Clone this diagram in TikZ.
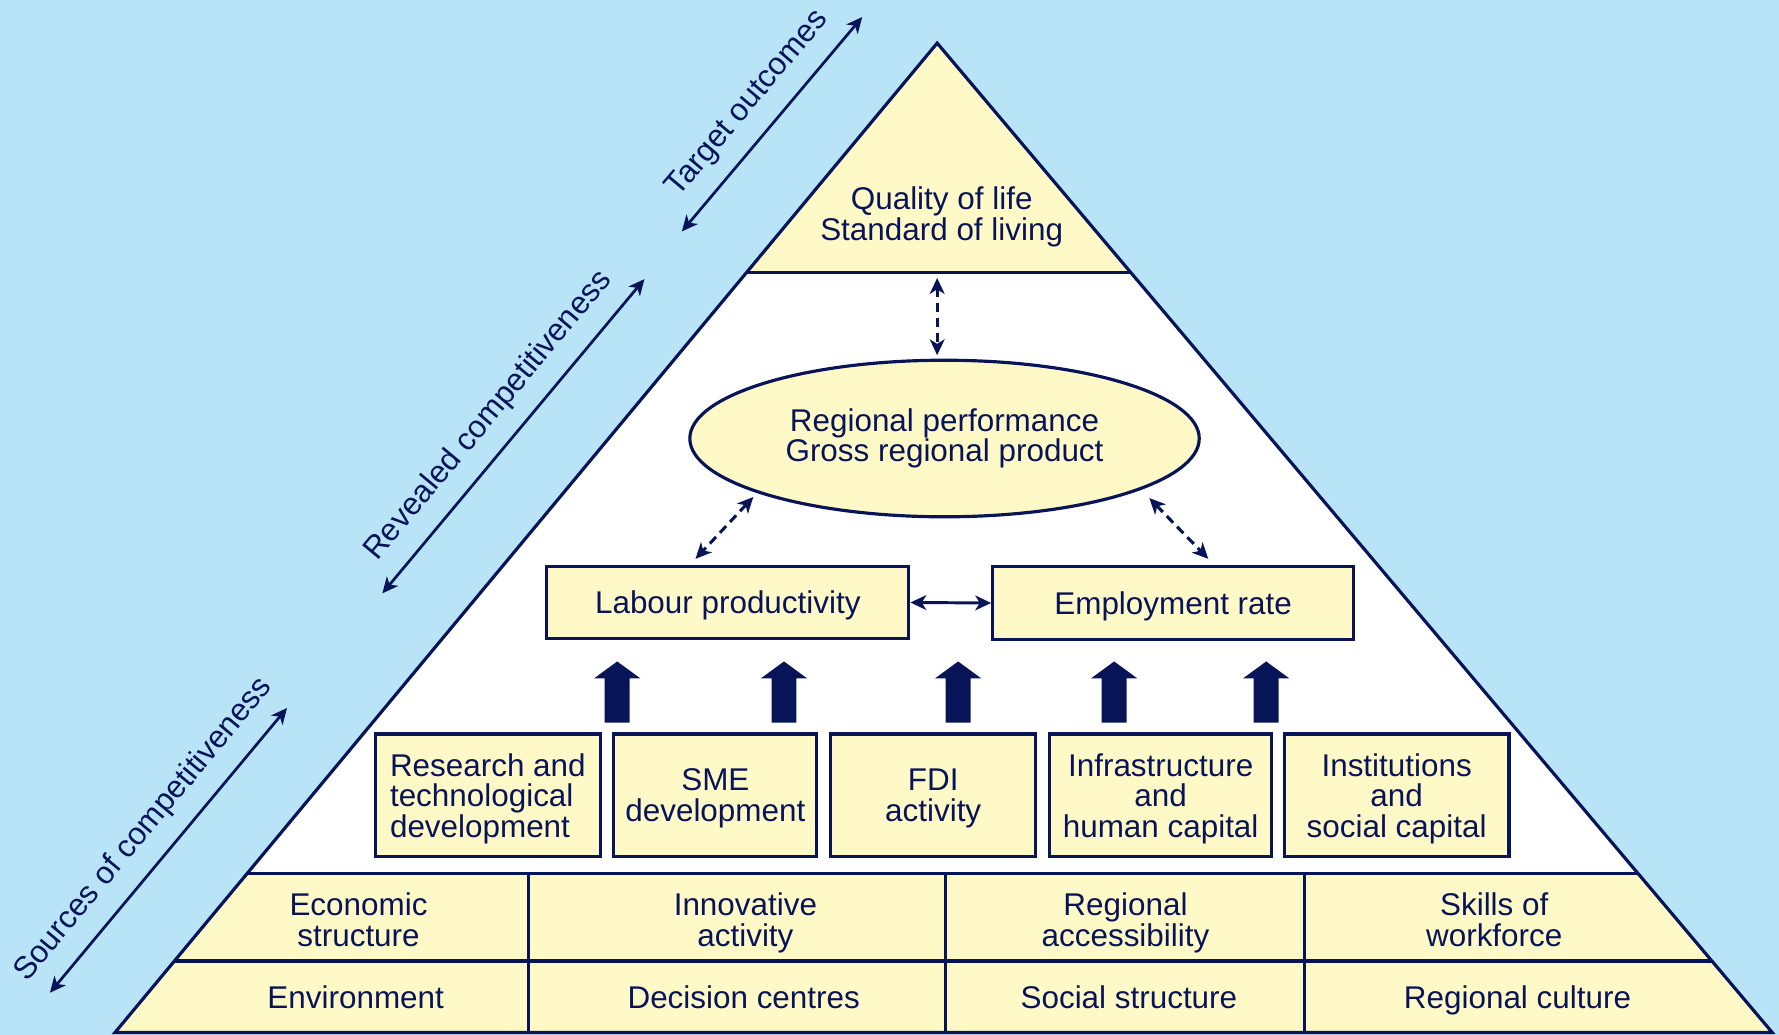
\documentclass[tikz,border=0pt]{standalone}
\usepackage{fontspec}
\setmainfont{Liberation Sans}
\usetikzlibrary{arrows.meta,shapes.geometric,calc}
\definecolor{bgblue}{RGB}{185,228,248}
\definecolor{pale}{RGB}{255,249,199}
\definecolor{navy}{RGB}{8,20,88}
\begin{document}
\begin{tikzpicture}[x=1pt,y=-1pt,
  font=\fontsize{27.7pt}{27pt}\selectfont,
  lbl/.style={align=center,inner sep=0pt,text=navy},
  flat/.style={text depth=0pt},
  box/.style={lbl,flat,draw=navy,line width=2.8pt,fill=pale},
  edge/.style={draw=navy,line width=2.8pt,line join=miter},
  >={Stealth[length=14pt,width=13pt,inset=4pt]},
  dasharrow/.style={draw=navy,line width=2.7pt,dash pattern=on 8pt off 5pt,<->},
  solidarrow/.style={draw=navy,line width=2.6pt,<->},
  sidearrow/.style={draw=navy,line width=2.4pt,<->},
  blockarrow/.style={fill=navy}
]
\useasboundingbox (0,0) rectangle (1568,912);
\fill[bgblue] (0,0) rectangle (1568,912);

% pyramid geometry
\coordinate (apex) at (826,38);
\coordinate (bl) at (101.4,910);
\coordinate (br) at (1562,910);
\coordinate (tl) at (658.1,240);
\coordinate (tr) at (996.5,240);
\coordinate (ml) at (217.7,770);
\coordinate (mr) at (1443.8,770);
\coordinate (ll) at (153.7,847);
\coordinate (lr) at (1508.8,847);

\fill[white] (apex) -- (bl) -- (br) -- cycle;
\fill[pale] (apex) -- (tl) -- (tr) -- cycle;
\fill[pale] (ml) -- (mr) -- (br) -- (bl) -- cycle;
\draw[edge] (tl) -- (tr);
\draw[edge] (ml) -- (mr);
\draw[edge] (ll) -- (lr);
\draw[edge] (466,770) -- (466,910);
\draw[edge] (833,770) -- (833,910);
\draw[edge] (1150,770) -- (1150,910);
\draw[edge] (apex) -- (bl) -- (br) -- cycle;

% top
\node[lbl,flat] (qol) at (830,188) {Quality of life\\Standard of living};

% ellipse
\node[lbl,draw=navy,line width=2.8pt,fill=pale,ellipse,minimum width=449pt,minimum height=138pt] (perf) at (832.5,386.5) {Regional performance\\Gross regional product};

% level 3 boxes
\node[box,minimum width=319pt,minimum height=64pt] (labour) at (641.5,531) {Labour productivity};
\node[box,minimum width=318pt,minimum height=65pt] (employ) at (1034,531.5) {Employment rate};

% level 2 boxes
\node[box,align=left,minimum width=198pt,minimum height=108pt] (rtd) at (430,701) {Research and\\technological\\development};
\node[box,minimum width=179pt,minimum height=108pt] (sme) at (630.5,701) {SME\\development};
\node[box,minimum width=181pt,minimum height=108pt] (fdi) at (822.5,701) {FDI\\activity};
\node[box,minimum width=196pt,minimum height=108pt] (infra) at (1023,701) {Infrastructure\\and\\human capital};
\node[box,minimum width=198pt,minimum height=108pt] (inst) at (1231,701) {Institutions\\and\\social capital};

% bottom band
\node[lbl,flat] (econ) at (316,810.5) {Economic\\structure};
\node[lbl,flat] (innov) at (657,810.5) {Innovative\\activity};
\node[lbl,flat] (access) at (992,810.5) {Regional\\accessibility};
\node[lbl,flat] (skills) at (1317,810.5) {Skills of\\workforce};
\node[lbl,flat] (env) at (313.5,879) {Environment};
\node[lbl,flat] (dec) at (655.5,879) {Decision centres};
\node[lbl,flat] (soc) at (995,879) {Social structure};
\node[lbl,flat] (cult) at (1337.5,879) {Regional culture};

% block arrows
\foreach \n/\x in {1/544,2/691,3/844.5,4/982,5/1116}{
  \coordinate (ba\n) at (\x,637);
  \fill[blockarrow] (ba\n) ++(-11,0) -- ++(0,-39) -- ++(-9.5,0) -- ++(20.5,-15) -- ++(20.5,15) -- ++(-9.5,0) -- ++(0,39) -- cycle;
}

% connectors
\coordinate (qb) at (826,245);
\draw[dasharrow] (qb) -- ($(qb |- perf.north)+(0,-3)$);
\draw[dasharrow] ($(perf.center)+(-168.5,51.5)$) -- ($(labour.north)+(-28.5,-5)$);
\draw[dasharrow] ($(perf.center)+(180.5,52.5)$) -- ($(employ.north)+(31,-5)$);
\draw[solidarrow] (labour.east) -- (employ.west);

% side arrows
\coordinate (ta) at (601,204);
\coordinate (tb) at (760,15);
\coordinate (ra) at (337,523);
\coordinate (rb) at (568,246);
\coordinate (sa) at (44,875);
\coordinate (sb) at (253,624);
\draw[sidearrow] (ta) -- (tb) node[lbl,flat,midway,sloped,above=20pt] (tlab) {Target outcomes};
\draw[sidearrow] (ra) -- (rb) node[lbl,flat,midway,sloped,above=20pt] (rlab) {Revealed competitiveness};
\draw[sidearrow] (sa) -- (sb) node[lbl,flat,midway,sloped,above=20pt] (slab) {Sources of competitiveness};
\end{tikzpicture}
\end{document}
